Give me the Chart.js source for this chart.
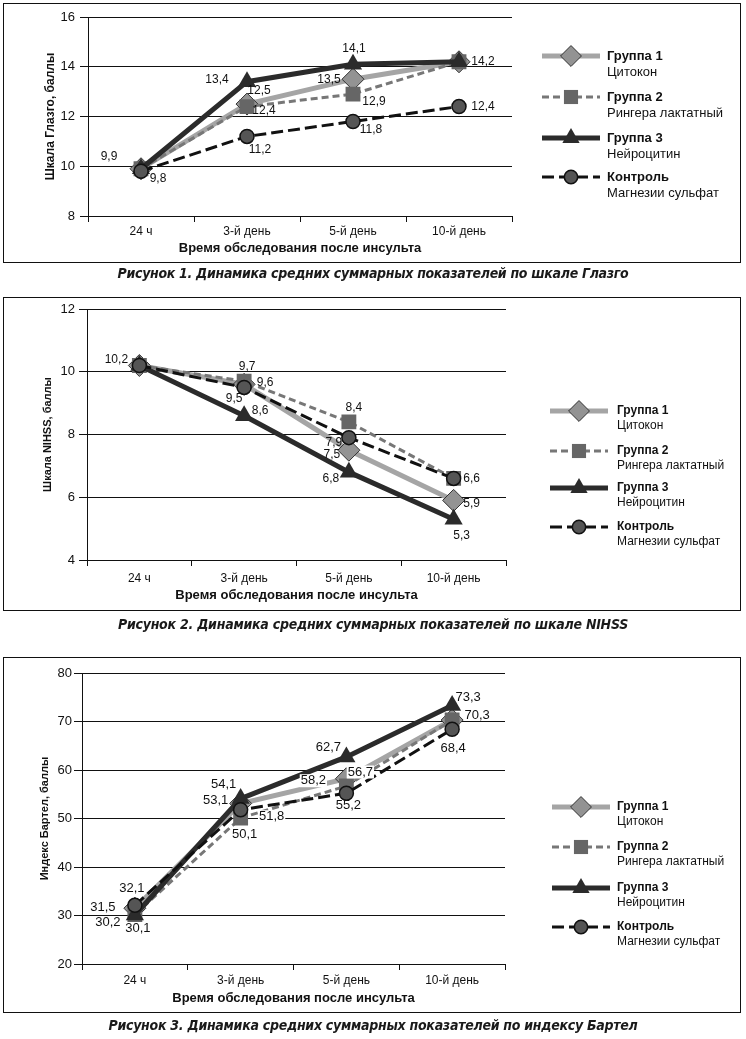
<!DOCTYPE html>
<html lang="ru">
<head>
<meta charset="utf-8">
<title>Динамика средних суммарных показателей</title>
<script src="https://cdn.jsdelivr.net/npm/chart.js@4"></script>
<style>
  body { margin: 0; background: #fff; width: 746px; height: 1039px; position: relative; overflow: hidden; }
  .panel { position: absolute; left: 3px; width: 738px; }
  .frame { position: absolute; left: 3px; width: 738px; border: 1.5px solid #111; box-sizing: border-box; pointer-events: none; }
  .caption { position: absolute; left: 0; width: 746px; text-align: center; white-space: nowrap;
    font-family: 'Liberation Sans Narrow', 'Arial Narrow', 'DejaVu Sans Condensed', sans-serif;
    font-weight: bold; font-style: italic; font-size: 14px; line-height: 18px; color: #1a1a1a; }
</style>
</head>
<body>
<div class="panel" style="top:3px;height:259px"><canvas id="glasgow"></canvas></div>
<div class="frame" style="top:3px;height:260px"></div>
<div class="caption" id="cap1" style="top:264px">Рисунок 1. Динамика средних суммарных показателей по шкале Глазго</div>

<div class="panel" style="top:297px;height:313px"><canvas id="nihss"></canvas></div>
<div class="frame" style="top:297px;height:314px"></div>
<div class="caption" id="cap2" style="top:615px">Рисунок 2. Динамика средних суммарных показателей по шкале NIHSS</div>

<div class="panel" style="top:657px;height:355px"><canvas id="barthel"></canvas></div>
<div class="frame" style="top:657px;height:356px"></div>
<div class="caption" id="cap3" style="top:1016px">Рисунок 3. Динамика средних суммарных показателей по индексу Бартел</div>

<script>
// --- data ---
const categories = ["24 ч", "3-й день", "5-й день", "10-й день"];
const groupNames = ["Группа 1", "Группа 2", "Группа 3", "Контроль"];
const drugNames = ["Цитокон", "Рингера лактатный", "Нейроцитин", "Магнезии сульфат"];

const glasgowTicks = [8, 10, 12, 14, 16];
const glasgowGroup1 = [9.9, 12.5, 13.5, 14.2];
const glasgowGroup2 = [9.9, 12.4, 12.9, 14.2];
const glasgowGroup3 = [9.9, 13.4, 14.1, 14.2];
const glasgowControl = [9.8, 11.2, 11.8, 12.4];

const nihssTicks = [4, 6, 8, 10, 12];
const nihssGroup1 = [10.2, 9.6, 7.5, 5.9];
const nihssGroup2 = [10.2, 9.7, 8.4, 6.6];
const nihssGroup3 = [10.2, 8.6, 6.8, 5.3];
const nihssControl = [10.2, 9.5, 7.9, 6.6];

const barthelTicks = [20, 30, 40, 50, 60, 70, 80];
const barthelGroup1 = [31.5, 53.1, 58.2, 70.3];
const barthelGroup2 = [30.2, 50.1, 56.7, 70.3];
const barthelGroup3 = [30.1, 54.1, 62.7, 73.3];
const barthelControl = [32.1, 51.8, 55.2, 68.4];

// where each value label sits relative to its point (null = not shown)
const glasgowLabelPos = [
  [[-32, -12], [12, -13], [-24, 0], [24, 0]],
  [null, [17, 4], [21, 8], null],
  [null, [-30, -2], [1, -16], null],
  [[17, 7], [13, 13], [18, 8], [24, 0]]
];
const nihssLabelPos = [
  [[-23, -6], [21, -2], [-17, 4], [18, 3]],
  [null, [3, -14], [5, -14], [18, 0]],
  [null, [16, -5], [-18, 7], [8, 16]],
  [null, [-10, 11], [-15, 5], null]
];
const barthelLabelPos = [
  [[-32, -1], [-25, -3], [-33, 2, 1], [25, -5]],
  [[-27, 8], [4, 16], [14, -14, 1], null],
  [[3, 13], [-17, -14], [-18, -9], [16, -8]],
  [[-3, -17], [31, 7, 1], [2, 12], [1, 19]]
];

const FONT = "'Liberation Sans', Arial, sans-serif";
Chart.defaults.font.family = FONT;
Chart.defaults.color = "#111";

const seriesStyle = [
  { borderColor: "#a5a5a5", borderWidth: 5, pointStyle: "rectRot", pointRadius: 11,
    pointBackgroundColor: "#939393", pointBorderColor: "#333", pointBorderWidth: 1, order: 3 },
  { borderColor: "#777", borderWidth: 3, borderDash: [7, 4], pointStyle: "rect", pointRadius: 10.5,
    pointBackgroundColor: "#666", pointBorderColor: "#666", pointBorderWidth: 0, order: 2 },
  { borderColor: "#2b2b2b", borderWidth: 5, pointStyle: "triangle", pointRadius: 10.5,
    pointBackgroundColor: "#2b2b2b", pointBorderColor: "#2b2b2b", pointBorderWidth: 0, order: 1 },
  { borderColor: "#111", borderWidth: 3, borderDash: [12, 5], pointStyle: "circle", pointRadius: 7,
    pointBackgroundColor: "#555", pointBorderColor: "#111", pointBorderWidth: 1.5, order: 0 }
];

const valueLabels = {
  id: "valueLabels",
  afterDatasetsDraw(chart, args, opts) {
    const ctx = chart.ctx;
    ctx.save();
    ctx.font = opts.size + "px " + FONT;
    ctx.textAlign = "center";
    ctx.textBaseline = "middle";
    chart.data.datasets.forEach((ds, di) => {
      const meta = chart.getDatasetMeta(di);
      meta.data.forEach((pt, i) => {
        const o = opts.pos[di][i];
        if (!o) return;
        const txt = ds.data[i].toFixed(1).replace(".", ",");
        const x = pt.x + o[0], y = pt.y + o[1];
        if (o[2]) {
          const w = ctx.measureText(txt).width;
          ctx.fillStyle = "#fff";
          ctx.fillRect(x - w / 2 - 1, y - opts.size / 2, w + 2, opts.size);
        }
        ctx.fillStyle = "#111";
        ctx.fillText(txt, x, y);
      });
    });
    ctx.restore();
  }
};

const sideLegend = {
  id: "sideLegend",
  afterDraw(chart, args, opts) {
    const ctx = chart.ctx;
    chart.data.datasets.forEach((ds, i) => {
      const y = opts.rows[i];
      ctx.save();
      ctx.strokeStyle = ds.borderColor;
      ctx.lineWidth = ds.borderWidth;
      ctx.setLineDash(ds.borderDash || []);
      ctx.beginPath();
      ctx.moveTo(opts.x0, y);
      ctx.lineTo(opts.x1, y);
      ctx.stroke();
      ctx.setLineDash([]);
      ctx.fillStyle = ds.pointBackgroundColor;
      ctx.strokeStyle = ds.pointBorderColor;
      ctx.lineWidth = ds.pointBorderWidth;
      Chart.helpers.drawPoint(ctx, {
        pointStyle: ds.pointStyle, rotation: 0,
        radius: ds.pointRadius * 0.95, borderWidth: ds.pointBorderWidth
      }, (opts.x0 + opts.x1) / 2, y);
      ctx.fillStyle = "#111";
      ctx.textAlign = "left";
      ctx.textBaseline = "middle";
      ctx.font = "bold " + opts.size + "px " + FONT;
      ctx.fillText(groupNames[i], opts.textX, y);
      ctx.font = opts.size + "px " + FONT;
      ctx.fillText(drugNames[i], opts.textX, y + opts.gap);
      ctx.restore();
    });
  }
};

function buildChart(id, series, ticks, p) {
  return new Chart(document.getElementById(id), {
    type: "line",
    data: {
      labels: categories,
      datasets: series.map((vals, i) => Object.assign({ label: groupNames[i], data: vals, tension: 0, fill: false }, seriesStyle[i]))
    },
    options: {
      responsive: true,
      maintainAspectRatio: false,
      animation: false,
      events: [],
      layout: { padding: { left: 0, top: p.top, right: p.right, bottom: 0 } },
      plugins: {
        legend: { display: false },
        tooltip: { enabled: false },
        valueLabels: { pos: p.labelPos, size: p.labelSize },
        sideLegend: p.legend
      },
      scales: {
        x: {
          offset: true,
          grid: { display: true, drawOnChartArea: false, drawTicks: true, tickLength: 6, color: "#111", offset: true },
          border: { display: true, color: "#111" },
          ticks: { color: "#111", font: { size: 12 }, padding: p.xPad, maxRotation: 0 },
          title: { display: true, text: "Время обследования после инсульта", color: "#111",
            font: { size: 13, weight: "bold" }, padding: { top: 0, bottom: p.xTitlePad } },
          afterFit: s => { s.height = p.xHeight; }
        },
        y: {
          min: ticks[0],
          max: ticks[ticks.length - 1],
          grid: { color: "#111", tickLength: 8 },
          border: { display: true, color: "#111" },
          ticks: { stepSize: ticks[1] - ticks[0], color: "#111", font: { size: 13 }, padding: p.yPad },
          title: { display: true, text: p.yTitle, color: "#111",
            font: { size: p.yTitleSize, weight: "bold" }, padding: { top: p.yTitlePad, bottom: 0 } },
          afterFit: s => { s.width = p.yWidth; }
        }
      }
    },
    plugins: [valueLabels, sideLegend]
  });
}

buildChart("glasgow", [glasgowGroup1, glasgowGroup2, glasgowGroup3, glasgowControl], glasgowTicks, {
  top: 14, right: 229, yWidth: 85, xHeight: 46, xPad: 2, xTitlePad: 6, yPad: 5,
  yTitle: "Шкала Глазго, баллы", yTitleSize: 12, yTitlePad: 40,
  labelPos: glasgowLabelPos, labelSize: 12,
  legend: { x0: 539, x1: 597, textX: 604, rows: [53, 94, 135, 174], gap: 16, size: 13 }
});

buildChart("nihss", [nihssGroup1, nihssGroup2, nihssGroup3, nihssControl], nihssTicks, {
  top: 10, right: 235, yWidth: 84, xHeight: 50, xPad: 5, xTitlePad: 7, yPad: 4,
  yTitle: "Шкала NIHSS, баллы", yTitleSize: 11, yTitlePad: 38,
  labelPos: nihssLabelPos, labelSize: 12,
  legend: { x0: 547, x1: 605, textX: 614, rows: [114, 154, 191, 230], gap: 15, size: 12 }
});

buildChart("barthel", [barthelGroup1, barthelGroup2, barthelGroup3, barthelControl], barthelTicks, {
  top: 16, right: 236, yWidth: 79, xHeight: 48, xPad: 3, xTitlePad: 6, yPad: 2,
  yTitle: "Индекс Бартел, баллы", yTitleSize: 11, yTitlePad: 35,
  labelPos: barthelLabelPos, labelSize: 13,
  legend: { x0: 549, x1: 607, textX: 614, rows: [150, 190, 231, 270], gap: 15, size: 12 }
});

// stretch the captions to the width they have in the printed figure
[["cap1", 511], ["cap2", 510], ["cap3", 529]].forEach(([id, target]) => {
  const el = document.getElementById(id);
  const span = document.createElement("span");
  span.textContent = el.textContent;
  el.textContent = "";
  el.appendChild(span);
  const w = span.getBoundingClientRect().width;
  span.style.letterSpacing = ((target - w) / span.textContent.length).toFixed(2) + "px";
});
</script>
</body>
</html>
